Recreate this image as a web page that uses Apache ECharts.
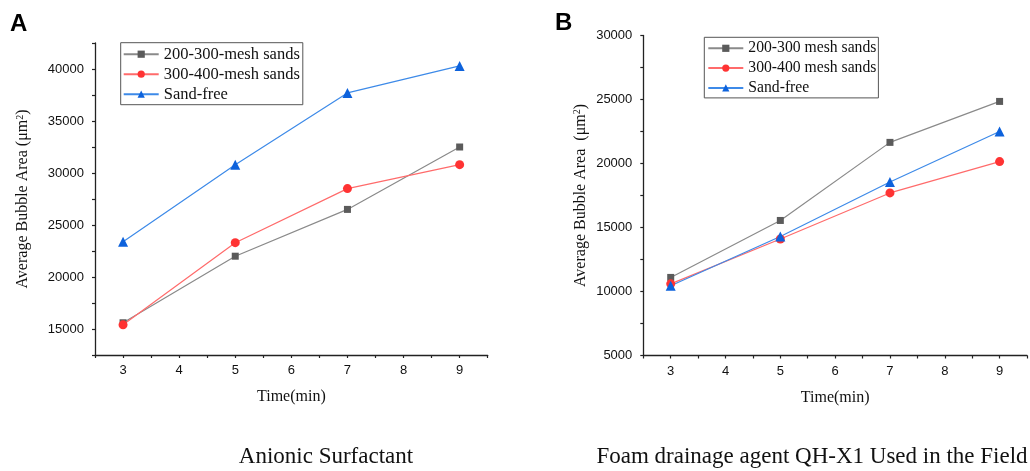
<!DOCTYPE html>
<html>
<head>
<meta charset="utf-8">
<title>Average Bubble Area vs Time</title>
<script src="https://cdn.jsdelivr.net/npm/echarts@6/dist/echarts.min.js"></script>
<style>
  html, body { margin: 0; padding: 0; background: #ffffff; }
  #chart { width: 1030px; height: 471px; }
</style>
</head>
<body>
<div id="chart"></div>
<script>
// Sampling times (min)
const times = [3, 5, 7, 9];

// Panel A: anionic surfactant
const anionic200_300 = [15600, 22000, 26500, 32500];
const anionic300_400 = [15400, 23300, 28500, 30800];
const anionicSandFree = [23400, 30800, 37700, 40300];

// Panel B: foam drainage agent QH-X1
const qh200_300 = [11100, 15550, 21650, 24850];
const qh300_400 = [10600, 14100, 17700, 20150];
const qhSandFree = [10450, 14300, 18550, 22500];

const namesA = ['200-300-mesh sands', '300-400-mesh sands', 'Sand-free'];
const namesB = ['200-300 mesh sands', '300-400 mesh sands', 'Sand-free'];

const SERIF = '"Liberation Serif", "Times New Roman", serif';
const SANS = '"Liberation Sans", Arial, sans-serif';

const styles = [
  { symbol: 'rect', size: 7, marker: '#5b5b5b', line: '#8a8a8a' },
  { symbol: 'circle', size: 9, marker: '#ff3333', line: '#ff6b6b' },
  { symbol: 'triangle', size: 10, marker: '#0d62dc', line: '#3d8ae8' }
];

function pairs(values) {
  return times.map((t, i) => [t, values[i]]);
}

function makeSeries(name, values, st, idx) {
  return {
    name: name,
    type: 'line',
    xAxisIndex: idx,
    yAxisIndex: idx,
    data: pairs(values),
    symbol: st.symbol,
    symbolSize: st.size,
    showAllSymbol: true,
    itemStyle: { color: st.marker },
    lineStyle: { color: st.line, width: 1.2 },
    emphasis: { disabled: true },
    animation: false,
    z: 3
  };
}

function xAxisFor(idx) {
  return {
    type: 'value',
    gridIndex: idx,
    min: 2.5,
    max: 9.5,
    interval: 0.5,
    name: 'Time(min)',
    nameLocation: 'middle',
    nameGap: 34,
    nameTextStyle: { fontFamily: SERIF, fontSize: 16, color: '#111' },
    axisLine: { show: true, lineStyle: { color: '#222', width: 1.3 } },
    axisTick: { show: true, inside: false, length: 3, lineStyle: { color: '#222', width: 1.2 } },
    axisLabel: {
      fontFamily: SANS, fontSize: 13, color: '#111', margin: 9,
      formatter: v => (Number.isInteger(v) ? String(v) : '')
    },
    splitLine: { show: false }
  };
}

function yAxisFor(idx, min, max, gap, nameText) {
  return {
    type: 'value',
    gridIndex: idx,
    min: min,
    max: max,
    interval: 2500,
    name: nameText,
    nameLocation: 'middle',
    nameGap: gap,
    nameRotate: 90,
    nameTextStyle: {
      fontFamily: SERIF, fontSize: 16, color: '#111',
      rich: {
        sup: { fontFamily: SERIF, fontSize: 10, color: '#111', verticalAlign: 'top', padding: [0, 0, 6, 0] }
      }
    },
    axisLine: { show: true, lineStyle: { color: '#222', width: 1.3 } },
    axisTick: { show: true, inside: false, length: 3, lineStyle: { color: '#222', width: 1.2 } },
    axisLabel: {
      fontFamily: SANS, fontSize: 13, color: '#111', margin: 11,
      formatter: v => (v % 5000 === 0 ? String(v) : '')
    },
    splitLine: { show: false }
  };
}

function legendFor(names, left, top, fontSize, gap, padding) {
  return {
    data: names,
    orient: 'vertical',
    left: left,
    top: top,
    itemWidth: 35,
    itemHeight: 9,
    itemGap: gap,
    padding: padding,
    borderColor: '#555',
    borderWidth: 1,
    textStyle: { fontFamily: SERIF, fontSize: fontSize, color: '#111', padding: [0, 0, 0, 0] },
    selectedMode: false
  };
}

const chart = echarts.init(document.getElementById('chart'), null, { renderer: 'canvas' });

chart.setOption({
  backgroundColor: '#ffffff',
  animation: false,
  grid: [
    { left: 95, top: 43, width: 392.7, height: 312 },
    { left: 643.3, top: 35.5, width: 390, height: 320 }
  ],
  xAxis: [xAxisFor(0), xAxisFor(1)],
  yAxis: [
    yAxisFor(0, 12500, 42500, 64, 'Average Bubble Area (μm{sup|2})'),
    yAxisFor(1, 5000, 30000, 55, 'Average Bubble Area  (μm{sup|2})')
  ],
  legend: [
    legendFor(namesA, 120.7, 42.7, 16.5, 3, [3, 3, 2, 2]),
    legendFor(namesB, 704.3, 37.3, 15.7, 3.8, [3, 2, 2, 3])
  ],
  series: [
    makeSeries(namesA[0], anionic200_300, styles[0], 0),
    makeSeries(namesA[1], anionic300_400, styles[1], 0),
    makeSeries(namesA[2], anionicSandFree, styles[2], 0),
    makeSeries(namesB[0], qh200_300, styles[0], 1),
    makeSeries(namesB[1], qh300_400, styles[1], 1),
    makeSeries(namesB[2], qhSandFree, styles[2], 1)
  ],
  graphic: [
    { type: 'text', left: 10, top: 12, style: { text: 'A', font: 'bold 24px ' + SANS, fill: '#000' } },
    { type: 'text', left: 555, top: 11, style: { text: 'B', font: 'bold 24px ' + SANS, fill: '#000' } },
    { type: 'text', x: 326, y: 457, style: { text: 'Anionic Surfactant', font: '23px ' + SERIF, fill: '#111', textAlign: 'center', textVerticalAlign: 'middle' } },
    { type: 'text', x: 812, y: 457, style: { text: 'Foam drainage agent QH-X1 Used in the Field', font: '23px ' + SERIF, fill: '#111', textAlign: 'center', textVerticalAlign: 'middle' } }
  ]
});
</script>
</body>
</html>
